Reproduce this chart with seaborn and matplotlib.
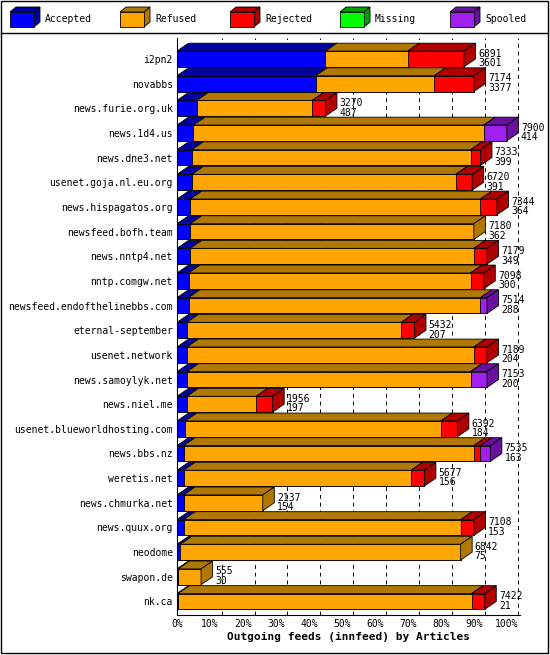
import numpy as np
import pandas as pd
import matplotlib
matplotlib.use("Agg")
import matplotlib.pyplot as plt
from matplotlib.patches import Polygon, Rectangle
import seaborn as sns

sites = ["i2pn2", "novabbs", "news.furie.org.uk", "news.1d4.us", "news.dne3.net",
         "usenet.goja.nl.eu.org", "news.hispagatos.org", "newsfeed.bofh.team",
         "news.nntp4.net", "nntp.comgw.net", "newsfeed.endofthelinebbs.com",
         "eternal-september", "usenet.network", "news.samoylyk.net", "news.niel.me",
         "usenet.blueworldhosting.com", "news.bbs.nz", "weretis.net", "news.chmurka.net",
         "news.quux.org", "neodome", "swapon.de", "nk.ca"]
totals = [6891, 7174, 3270, 7900, 7333, 6720, 7344, 7180, 7179, 7098, 7514, 5432, 7189,
          7153, 1956, 6392, 7535, 5677, 2137, 7108, 6842, 555, 7422]
accepted_n = [3601, 3377, 487, 414, 399, 391, 364, 362, 349, 300, 288, 207, 204, 200, 197,
              184, 163, 156, 154, 153, 75, 30, 21]
# percentages
accepted = [45, 42, 6, 5, 4.5, 4.5, 4, 4, 4, 3.5, 3.5, 3, 3, 3, 3, 2.5, 2, 2, 2, 2, 1, 0.3, 0.3]
refused = [25, 36, 35, 88, 84.5, 80, 88, 86, 86, 85.5, 88.5, 65, 87, 86, 21, 77.5, 88, 69, 24, 84, 85, 7, 89]
rejected = [17, 12, 4, 0, 3, 5, 5, 0, 4, 4, 0, 4, 4, 0, 5, 5, 2, 4, 0, 4, 0, 0, 4]
missing = [0] * 23
spooled = [0, 0, 0, 7, 0, 0, 0, 0, 0, 0, 2, 0, 0, 5, 0, 0, 3, 0, 0, 0, 0, 0, 0]

names = ["Accepted", "Refused", "Rejected", "Missing", "Spooled"]
front = ["#0000ff", "#ffa500", "#ff0000", "#00ff00", "#a020f0"]
dark = ["#0000a0", "#b07800", "#b00000", "#00a000", "#6a10a0"]

df = pd.DataFrame({"site": sites, "Accepted": accepted, "Refused": refused,
                   "Rejected": rejected, "Missing": missing, "Spooled": spooled})
cum = df[names].cumsum(axis=1)

fig = plt.figure(figsize=(5.5, 6.55), dpi=100)
fig.patch.set_facecolor("white")
ax = fig.add_axes([177 / 550, 40 / 655, 343 / 550, 577 / 655])
mono = "DejaVu Sans Mono"

bh = 0.64
for i in range(len(names) - 1, -1, -1):
    sns.barplot(x=cum[names[i]], y=df["site"], orient="h", color=front[i],
                width=bh, edgecolor="black", linewidth=0.6, saturation=1, ax=ax)

dx, dy = 3.5, 0.32
for r in range(len(sites)):
    left = 0
    yt = r - bh / 2
    for i, n in enumerate(names):
        w = df.loc[r, n]
        if w <= 0:
            continue
        ax.add_patch(Polygon([(left, yt), (left + dx, yt - dy), (left + w + dx, yt - dy),
                              (left + w, yt)], closed=True, fc=dark[i], ec="black", lw=0.6))
        left += w
    ax.add_patch(Polygon([(left, yt), (left + dx, yt - dy), (left + dx, yt + bh - dy),
                          (left, yt + bh)], closed=True, fc=dark[[i for i in range(5)
                          if df.loc[r, names[i]] > 0][-1]], ec="black", lw=0.6))
    ax.text(left + dx + 0.8, r - 0.02, f"{totals[r]}\n{accepted_n[r]}", fontsize=7,
            family=mono, va="center", ha="left", linespacing=0.95)

ax.set_xlim(0, 104)
ax.set_ylim(len(sites) - 0.45, -0.85)
ax.set_xticks(np.arange(0, 101, 10))
ax.set_xticklabels([f"{v}%" for v in range(0, 101, 10)], family=mono, fontsize=7)
ax.set_yticks(range(len(sites)))
ax.set_yticklabels(sites, family=mono, fontsize=7)
ax.tick_params(length=0, pad=3)
for v in range(10, 101, 10):
    ax.axvline(v + dx, color="black", ls=(0, (4, 4)), lw=0.7, zorder=0)
ax.set_xlabel("Outgoing feeds (innfeed) by Articles", family=mono, fontsize=8,
              fontweight="bold", labelpad=2)
ax.set_ylabel("")
for s in ["top", "right"]:
    ax.spines[s].set_visible(False)
ax.spines["left"].set_linewidth(0.8)
ax.spines["bottom"].set_linewidth(0.8)

# legend strip
lg = fig.add_axes([0, 0, 1, 1], zorder=-1)
lg.set_xlim(0, 550)
lg.set_ylim(655, 0)
lg.axis("off")
lg.add_patch(Rectangle((1, 1), 547, 652, fill=False, ec="black", lw=1))
lg.plot([1, 548], [33, 33], color="black", lw=1)
lx = [10, 120, 230, 340, 450]
for i, n in enumerate(names):
    x0 = lx[i]
    lg.add_patch(Polygon([(x0, 12), (x0 + 6, 7), (x0 + 30, 7), (x0 + 24, 12)],
                         fc=dark[i], ec="black", lw=0.6))
    lg.add_patch(Polygon([(x0 + 24, 12), (x0 + 30, 7), (x0 + 30, 22), (x0 + 24, 27)],
                         fc=dark[i], ec="black", lw=0.6))
    lg.add_patch(Rectangle((x0, 12), 24, 15, fc=front[i], ec="black", lw=0.6))
    lg.text(x0 + 35, 19, n, family=mono, fontsize=7, va="center")

fig.savefig("out.png", dpi=100)
